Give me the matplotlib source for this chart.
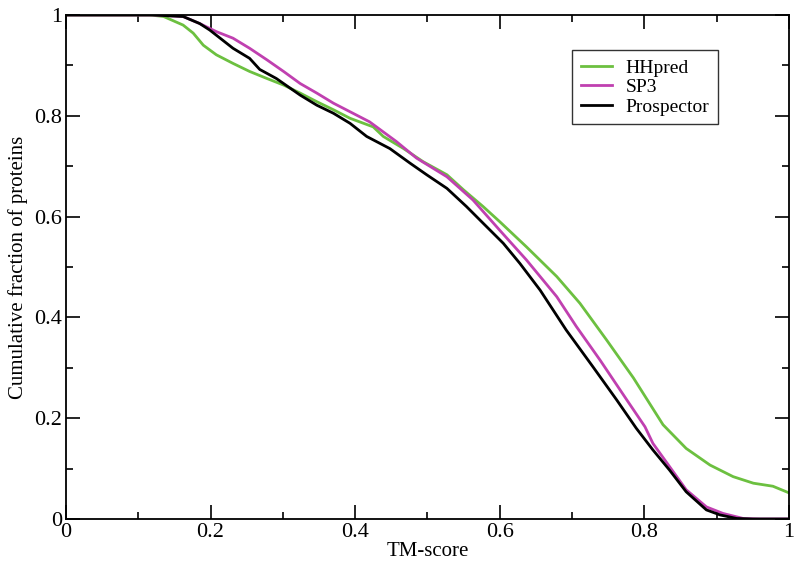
import matplotlib
matplotlib.use("Agg")
import matplotlib.pyplot as plt
from matplotlib.ticker import MultipleLocator

plt.rcParams['font.family'] = ['Liberation Serif', 'DejaVu Serif']

hh_x = [0.0, 0.116, 0.135, 0.162, 0.176, 0.190, 0.208, 0.231, 0.254, 0.278, 0.301, 0.324,
        0.347, 0.370, 0.393, 0.425, 0.439, 0.467, 0.494, 0.527, 0.550, 0.577, 0.600,
        0.637, 0.679, 0.711, 0.748, 0.785, 0.826, 0.858, 0.891, 0.923, 0.951, 0.978, 1.0]
hh_y = [1.0, 1.0, 0.997, 0.980, 0.964, 0.940, 0.921, 0.904, 0.888, 0.874, 0.861, 0.845,
        0.828, 0.812, 0.795, 0.778, 0.759, 0.735, 0.709, 0.683, 0.653, 0.620, 0.590,
        0.540, 0.481, 0.428, 0.355, 0.280, 0.187, 0.140, 0.107, 0.084, 0.071, 0.065, 0.052]

sp3_x = [0.0, 0.12, 0.162, 0.185, 0.208, 0.231, 0.254, 0.278, 0.301, 0.324, 0.347, 0.370,
         0.393, 0.420, 0.457, 0.485, 0.527, 0.563, 0.600, 0.637, 0.679, 0.706, 0.739,
         0.776, 0.801, 0.812, 0.835, 0.858, 0.886, 0.909, 0.937, 0.96, 1.0]
sp3_y = [1.0, 1.0, 0.997, 0.983, 0.967, 0.954, 0.934, 0.911, 0.888, 0.864, 0.845, 0.825,
         0.808, 0.788, 0.749, 0.716, 0.679, 0.633, 0.573, 0.514, 0.441, 0.382, 0.315,
         0.236, 0.183, 0.150, 0.104, 0.058, 0.024, 0.011, 0.001, 0.0, 0.0]

pro_x = [0.0, 0.12, 0.162, 0.185, 0.199, 0.231, 0.254, 0.268, 0.291, 0.324, 0.347, 0.370,
         0.393, 0.416, 0.448, 0.476, 0.499, 0.527, 0.554, 0.577, 0.605, 0.628, 0.656,
         0.692, 0.729, 0.762, 0.789, 0.812, 0.835, 0.858, 0.886, 0.905, 0.928, 0.95, 1.0]
pro_y = [1.0, 1.0, 0.997, 0.983, 0.970, 0.934, 0.914, 0.892, 0.874, 0.841, 0.821, 0.805,
         0.785, 0.759, 0.735, 0.706, 0.683, 0.656, 0.620, 0.587, 0.547, 0.507, 0.454,
         0.375, 0.302, 0.236, 0.180, 0.137, 0.097, 0.054, 0.018, 0.008, 0.001, 0.0, 0.0]

tick_vals = [0, 0.2, 0.4, 0.6, 0.8, 1]
tick_labels = ["0", "0.2", "0.4", "0.6", "0.8", "1"]

fig = plt.figure(figsize=(8, 5.7), dpi=100)
ax = fig.add_axes([0.0825, 0.0895, 0.9035, 0.8842])

ax.plot(hh_x, hh_y, color='#6cc040', lw=2.0, label='HHpred')
ax.plot(sp3_x, sp3_y, color='#c040b0', lw=2.0, label='SP3')
ax.plot(pro_x, pro_y, color='black', lw=2.0, label='Prospector')

ax.set_xlim(0, 1)
ax.set_ylim(0, 1)
ax.set_xticks(tick_vals)
ax.set_xticklabels(tick_labels)
ax.set_yticks(tick_vals)
ax.set_yticklabels(tick_labels)
ax.xaxis.set_minor_locator(MultipleLocator(0.1))
ax.yaxis.set_minor_locator(MultipleLocator(0.1))
ax.tick_params(which='both', direction='in', top=True, right=True, width=1.2,
               labelsize=16, colors='black')
ax.tick_params(which='major', length=10, pad=3)
ax.tick_params(which='minor', length=5)
for s in ax.spines.values():
    s.set_linewidth(1.3)

ax.set_xlabel('TM-score', fontsize=15, labelpad=0)
ax.set_ylabel('Cumulative fraction of proteins', fontsize=15, labelpad=4)

leg = ax.legend(loc='upper left', bbox_to_anchor=(0.70, 0.93), borderaxespad=0,
                fontsize=14, frameon=True, fancybox=False, edgecolor='black',
                handlelength=1.6, handletextpad=0.7, borderpad=0.45, labelspacing=0.1)
leg.get_frame().set_linewidth(1.0)

fig.savefig('out.png', dpi=100)
